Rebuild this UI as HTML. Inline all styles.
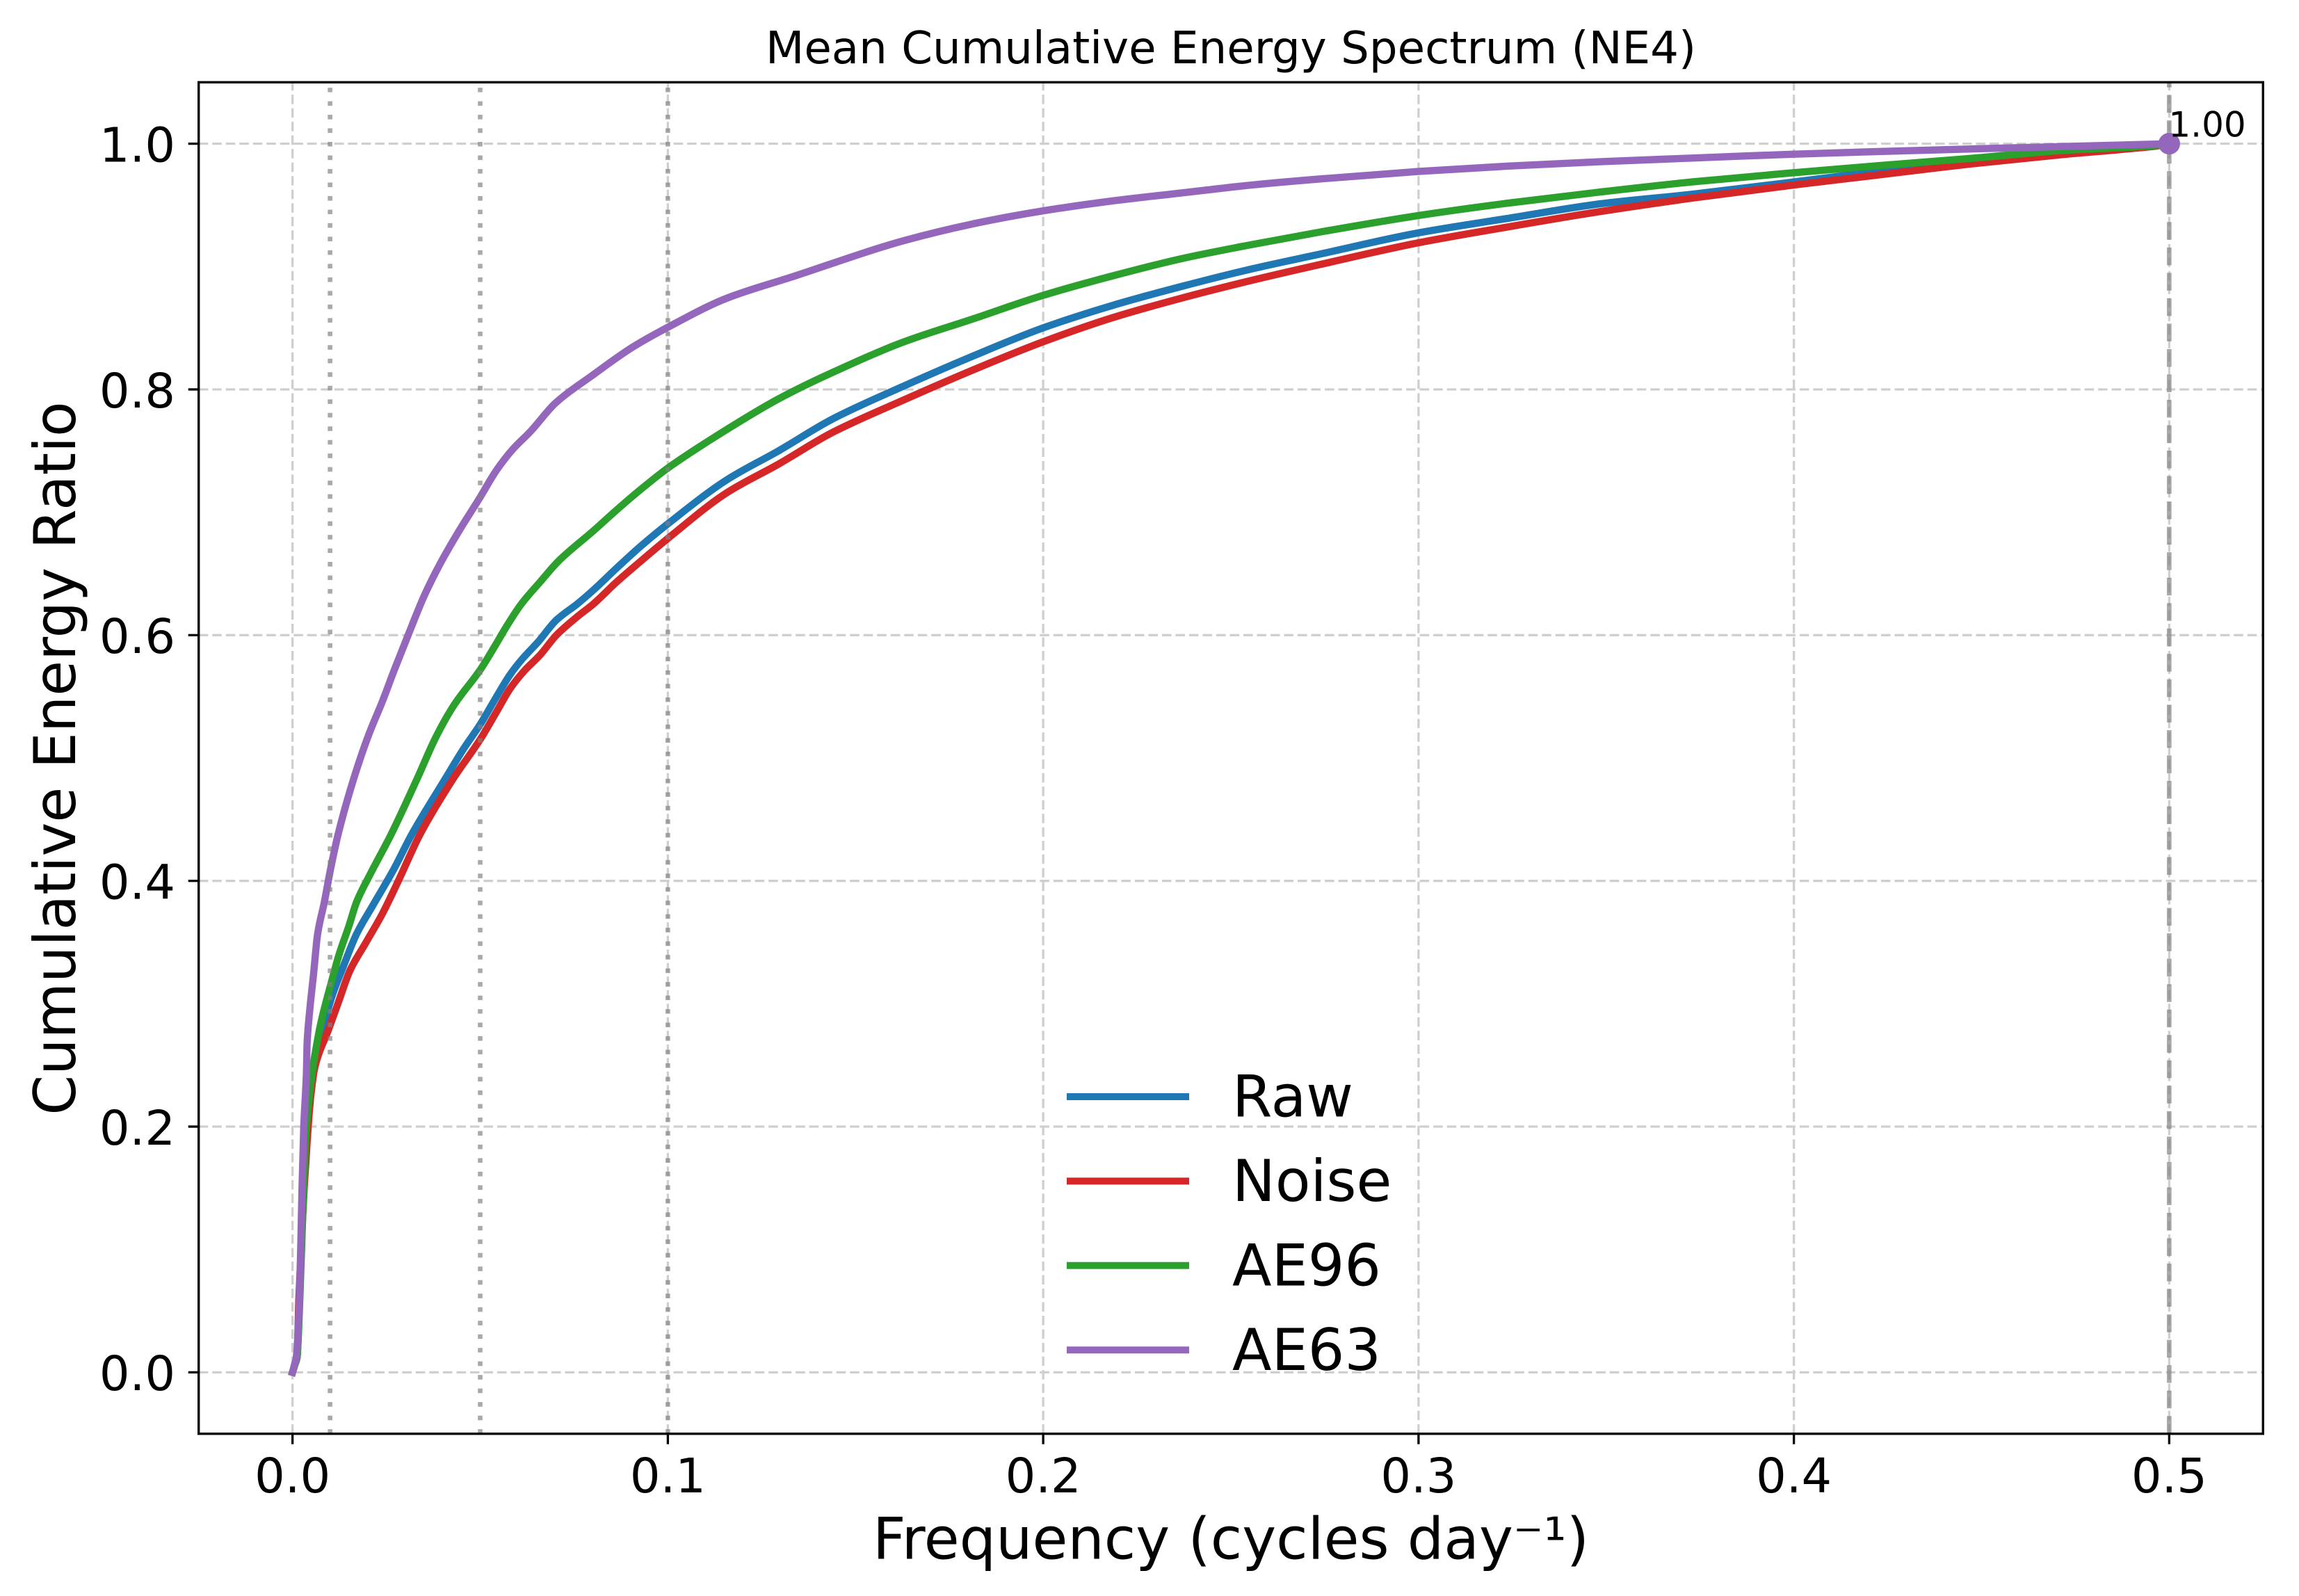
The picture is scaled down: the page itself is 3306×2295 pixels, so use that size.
<!DOCTYPE html>
<html lang="en">
<head>
<meta charset="utf-8">
<title>Mean Cumulative Energy Spectrum (NE4)</title>
<style>
html,body{margin:0;padding:0;background:#fff;}
svg{display:block;font-family:"DejaVu Sans","Liberation Sans",sans-serif;}
</style>
</head>
<body>
<svg id="chart" xmlns="http://www.w3.org/2000/svg" width="3306" height="2295" viewBox="0 0 3306 2295">
  <rect x="0" y="0" width="3306" height="2295" fill="#ffffff"/>
  <g id="grid"></g>
  <g id="series"></g>
  <g id="refs"></g>
  <g id="endpoint"></g>
  <g id="axes"></g>
  <text x="1770" y="91" font-size="64.2" text-anchor="middle" fill="#000">Mean Cumulative Energy Spectrum (NE4)</text>
  <text x="1770" y="2241.5" font-size="82.7" text-anchor="middle" fill="#000">Frequency (cycles day⁻¹)</text>
  <text transform="translate(108 1090.5) rotate(-90)" font-size="82.7" text-anchor="middle" fill="#000">Cumulative Energy Ratio</text>
  <g id="legend"></g>
</svg>
<script>
// ---- chart data ----
const xTickValues = [0, 0.1, 0.2, 0.3, 0.4, 0.5];
const xTickLabels = ["0.0", "0.1", "0.2", "0.3", "0.4", "0.5"];
const yTickValues = [0, 0.2, 0.4, 0.6, 0.8, 1.0];
const yTickLabels = ["0.0", "0.2", "0.4", "0.6", "0.8", "1.0"];
const referenceFreqs = [0.01, 0.05, 0.1];
const nyquistFreq = [0.5];
const endpointFreq = 0.5;
const endpointValue = 1.0;
const endpointLabel = "1.00";
const legendLabels = ["Raw", "Noise", "AE96", "AE63"];

const rawFreq = [0,0.0006,0.0012,0.0019,0.0027,0.0036,0.0046,0.0067,0.0104,0.0135,0.0171,0.0214,0.0269,0.0318,0.0407,0.0456,0.05,0.0542,0.058,0.0611,0.0654,0.0703,0.0759,0.0802,0.0864,0.0925,0.1,0.1155,0.1296,0.1438,0.1629,0.1815,0.1999,0.2186,0.2371,0.2556,0.2741,0.2999,0.3235,0.3482,0.3729,0.4001,0.4223,0.447,0.4717,0.4964,0.5];
const rawEnergy = [0,0.006,0.012,0.064,0.145,0.19,0.225,0.262,0.305,0.33,0.357,0.38,0.409,0.438,0.4831,0.5076,0.5273,0.5491,0.568,0.5802,0.5944,0.6123,0.6255,0.6368,0.6547,0.6717,0.6906,0.726,0.7502,0.7758,0.8028,0.8274,0.85,0.8685,0.884,0.8981,0.9104,0.9274,0.9391,0.951,0.9589,0.9689,0.9775,0.9868,0.9925,0.998,1];

const noiseFreq = [0,0.0006,0.0012,0.0017,0.0025,0.0031,0.0039,0.0048,0.006,0.0096,0.0122,0.0153,0.0196,0.0239,0.0282,0.034,0.0428,0.05,0.0542,0.058,0.0617,0.066,0.0703,0.0759,0.0802,0.0864,0.0925,0.1,0.1155,0.1296,0.1438,0.1629,0.1815,0.1999,0.2186,0.2371,0.2556,0.2741,0.2999,0.3235,0.3482,0.3729,0.4001,0.4223,0.447,0.4717,0.4964,0.5];
const noiseEnergy = [0,0.006,0.012,0.06,0.113,0.15,0.188,0.223,0.249,0.279,0.301,0.327,0.35,0.373,0.4,0.438,0.4831,0.5151,0.5368,0.5566,0.5708,0.584,0.6,0.6151,0.6255,0.6434,0.6595,0.6787,0.7155,0.7394,0.7649,0.7915,0.8161,0.8387,0.8585,0.8745,0.8888,0.9019,0.9193,0.9321,0.9447,0.9557,0.9664,0.9745,0.9835,0.9912,0.9981,1];

const ae96Freq = [0,0.0006,0.0012,0.0020,0.0031,0.0037,0.0052,0.0064,0.0076,0.0104,0.0124,0.015,0.0171,0.0208,0.0263,0.0332,0.0382,0.0431,0.05,0.0536,0.0573,0.061,0.066,0.0709,0.0802,0.0864,0.0925,0.1,0.1155,0.1296,0.1438,0.1628,0.1815,0.1999,0.2186,0.2371,0.2556,0.2741,0.2999,0.3235,0.3482,0.3729,0.4001,0.4223,0.447,0.4717,0.4964,0.5];
const ae96Energy = [0,0.006,0.012,0.064,0.162,0.2,0.243,0.266,0.285,0.318,0.34,0.363,0.383,0.406,0.438,0.4831,0.517,0.5434,0.5717,0.5895,0.6085,0.6255,0.6434,0.6604,0.685,0.702,0.7179,0.736,0.767,0.7925,0.8137,0.8386,0.8576,0.8765,0.8925,0.9066,0.9179,0.9283,0.9415,0.9515,0.9606,0.9689,0.9764,0.9821,0.988,0.9945,0.9985,1];

const ae63Freq = [0,0.0005,0.001,0.0019,0.0025,0.003,0.0037,0.0039,0.0046,0.0056,0.0067,0.0085,0.0101,0.0122,0.0163,0.0203,0.024,0.0271,0.0308,0.0351,0.0394,0.0444,0.05,0.0543,0.0586,0.0635,0.0701,0.08,0.0906,0.1,0.1155,0.1332,0.1629,0.1815,0.1999,0.2186,0.2371,0.2556,0.2741,0.2999,0.3235,0.3482,0.3729,0.4001,0.4223,0.447,0.4717,0.4964,0.5];
const ae63Energy = [0,0.006,0.012,0.064,0.145,0.2,0.243,0.269,0.295,0.324,0.357,0.383,0.409,0.4385,0.4831,0.5189,0.5465,0.5715,0.6,0.6321,0.6585,0.685,0.7123,0.734,0.751,0.7661,0.789,0.8117,0.8344,0.8506,0.874,0.8917,0.9211,0.9349,0.9453,0.9535,0.96,0.9664,0.9714,0.9774,0.9817,0.9853,0.9883,0.9915,0.9936,0.9957,0.9977,0.9997,1];

// ---- axis functions ----
const plotLeft = 285.7, plotRight = 3254.3, plotTop = 118.3, plotBottom = 2061.7;
const xMin = -0.025, xMax = 0.525, yMin = -0.05, yMax = 1.05;
function xScale(v){ return plotLeft + (v - xMin) / (xMax - xMin) * (plotRight - plotLeft); }
function yScale(v){ return plotBottom - (v - yMin) / (yMax - yMin) * (plotBottom - plotTop); }

const NS = "http://www.w3.org/2000/svg";
function mk(tag, parent, attrs){
  const el = document.createElementNS(NS, tag);
  for (const k in attrs) el.setAttribute(k, attrs[k]);
  parent.appendChild(el);
  return el;
}

// monotone cubic path through the data points
function smoothPath(freq, energy){
  const n = freq.length;
  const xs = freq.map(xScale), ys = energy.map(yScale);
  const sec = [];
  for (let i = 0; i < n - 1; i++) sec.push((ys[i+1] - ys[i]) / (xs[i+1] - xs[i]));
  const m = [sec[0]];
  for (let i = 1; i < n - 1; i++) {
    m.push(sec[i-1] * sec[i] <= 0 ? 0 : 2 * sec[i-1] * sec[i] / (sec[i-1] + sec[i]));
  }
  m.push(sec[n-2]);
  let d = "M" + xs[0].toFixed(2) + " " + ys[0].toFixed(2);
  for (let i = 0; i < n - 1; i++) {
    const h = (xs[i+1] - xs[i]) / 3;
    d += "C" + (xs[i] + h).toFixed(2) + " " + (ys[i] + m[i] * h).toFixed(2) + " " +
         (xs[i+1] - h).toFixed(2) + " " + (ys[i+1] - m[i+1] * h).toFixed(2) + " " +
         xs[i+1].toFixed(2) + " " + ys[i+1].toFixed(2);
  }
  return d;
}

// ---- grid ----
const gridG = document.getElementById("grid");
xTickValues.forEach(function(v){
  const el = mk("line", gridG, {x1:xScale(v), x2:xScale(v), y1:plotBottom, y2:plotTop, stroke:"#cfcfcf", "stroke-width":3.3, "stroke-dasharray":"13.6 5.91"});
  
  
});
yTickValues.forEach(function(v){
  const el = mk("line", gridG, {x1:plotLeft, x2:plotRight, y1:yScale(v), y2:yScale(v), stroke:"#cfcfcf", "stroke-width":3.3, "stroke-dasharray":"13.6 5.91"});
  
  
});

// ---- series ----
const seriesG = document.getElementById("series");
function drawSeries(freq, energy, color, name){
  const el = mk("path", seriesG, {d:smoothPath(freq, energy), fill:"none", stroke:color, "stroke-width":10.4, "stroke-linecap":"square", "stroke-linejoin":"round"});
  
  
}
drawSeries(rawFreq, rawEnergy, "#1f77b4", "raw-line");
drawSeries(noiseFreq, noiseEnergy, "#d62728", "noise-line");
drawSeries(ae96Freq, ae96Energy, "#2ca02c", "ae96-line");
drawSeries(ae63Freq, ae63Energy, "#9467bd", "ae63-line");

// ---- reference lines ----
const refsG = document.getElementById("refs");
referenceFreqs.forEach(function(v){
  const el = mk("line", refsG, {x1:xScale(v), x2:xScale(v), y1:plotBottom, y2:plotTop, stroke:"#808080", "stroke-opacity":0.68, "stroke-width":6.6, "stroke-dasharray":"6.6 12.885"});
  
  
});
nyquistFreq.forEach(function(v){
  const el = mk("line", refsG, {x1:xScale(v), x2:xScale(v), y1:plotBottom, y2:plotTop, stroke:"#808080", "stroke-opacity":0.68, "stroke-width":6.6, "stroke-dasharray":"25.5 11.03"});
  
  
});

// ---- endpoint marker and label ----
const endG = document.getElementById("endpoint");
const marker = mk("circle", endG, {cx:xScale(endpointFreq), cy:yScale(endpointValue), r:15.6, fill:"#9467bd"});


const endLabel = mk("text", endG, {x:xScale(endpointFreq) - 1, y:yScale(endpointValue) - 10, "font-size":50, fill:"#000"});
endLabel.textContent = endpointLabel;



// ---- axes: spines, ticks, tick labels ----
const axesG = document.getElementById("axes");
const frame = mk("rect", axesG, {x:plotLeft, y:plotTop, width:plotRight - plotLeft, height:plotBottom - plotTop, fill:"none", stroke:"#000", "stroke-width":3.4});


xTickValues.forEach(function(v, i){
  const t = mk("line", axesG, {x1:xScale(v), x2:xScale(v), y1:plotBottom, y2:plotBottom + 15, stroke:"#000", "stroke-width":3.3});
  
  
  const l = mk("text", axesG, {x:xScale(v), y:2146, "font-size":68.6, "text-anchor":"middle", fill:"#000"});
  l.textContent = xTickLabels[i];
  
  
});
yTickValues.forEach(function(v, i){
  const t = mk("line", axesG, {x1:plotLeft - 15, x2:plotLeft, y1:yScale(v), y2:yScale(v), stroke:"#000", "stroke-width":3.3});
  
  
  const l = mk("text", axesG, {x:252, y:yScale(v) + 25.8, "font-size":68.6, "text-anchor":"end", fill:"#000"});
  l.textContent = yTickLabels[i];
  
  
});

// ---- legend ----
const legendG = document.getElementById("legend");
const legendColors = ["#1f77b4", "#d62728", "#2ca02c", "#9467bd"];
legendLabels.forEach(function(label, i){
  const y = 1577 + i * 121.4;
  const h = mk("line", legendG, {x1:1534, x2:1710, y1:y, y2:y, stroke:legendColors[i], "stroke-width":10});
  
  
  const t = mk("text", legendG, {x:1772, y:y + 28.6, "font-size":82.7, fill:"#000"});
  t.textContent = label;
  
  
});
</script>
</body>
</html>
